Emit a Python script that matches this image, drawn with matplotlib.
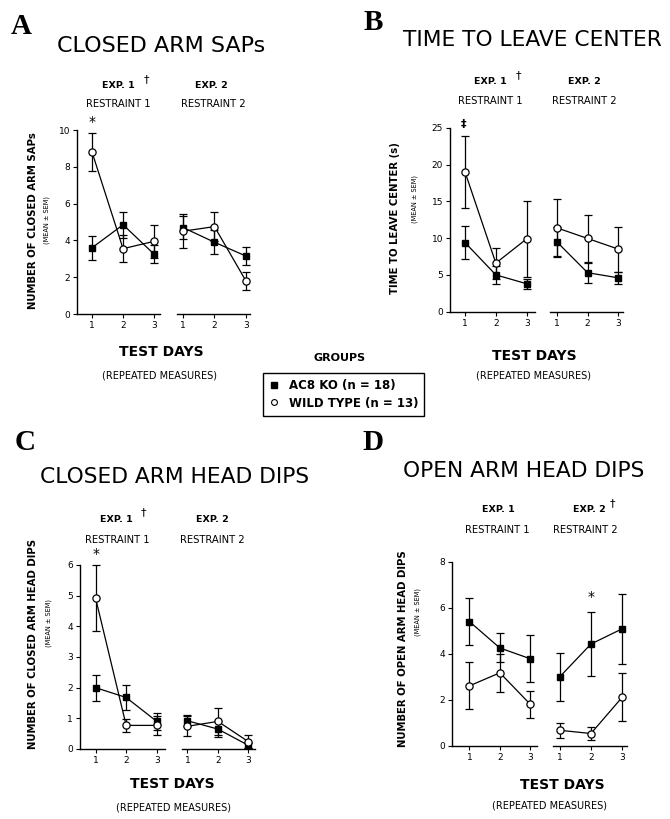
import matplotlib
matplotlib.use("Agg")
import matplotlib.pyplot as plt
from matplotlib.lines import Line2D

W, H = 670, 819
plt.rcParams['font.family'] = ['DejaVu Sans']

days = [1, 2, 3]
day_labels = ["1", "2", "3"]

# Panel A: closed arm SAPs
a_ko1 = [3.6, 4.85, 3.25]; a_ko1_sem = [0.65, 0.7, 0.5]
a_wt1 = [8.8, 3.55, 3.95]; a_wt1_sem = [1.05, 0.75, 0.88]
a_ko2 = [4.7, 3.9, 3.15];  a_ko2_sem = [0.6, 0.65, 0.5]
a_wt2 = [4.5, 4.75, 1.8];  a_wt2_sem = [0.92, 0.8, 0.47]

# Panel B: time to leave center (s)
b_ko1 = [9.4, 5.0, 3.8];    b_ko1_sem = [2.2, 1.2, 0.7]
b_wt1 = [19.0, 6.6, 9.9];   b_wt1_sem = [4.9, 2.1, 5.2]
b_ko2 = [9.5, 5.3, 4.6];    b_ko2_sem = [2.0, 1.35, 0.85]
b_wt2 = [11.4, 9.95, 8.5];  b_wt2_sem = [3.85, 3.2, 3.05]

# Panel C: closed arm head dips
c_ko1 = [2.0, 1.68, 0.9];   c_ko1_sem = [0.42, 0.42, 0.28]
c_wt1 = [4.92, 0.77, 0.77]; c_wt1_sem = [1.07, 0.2, 0.31]
c_ko2 = [0.92, 0.65, 0.12]; c_ko2_sem = [0.18, 0.27, 0.08]
c_wt2 = [0.74, 0.9, 0.24];  c_wt2_sem = [0.33, 0.45, 0.22]

# Panel D: open arm head dips
d_ko1 = [5.4, 4.25, 3.78];  d_ko1_sem = [1.02, 0.63, 1.03]
d_wt1 = [2.6, 3.17, 1.8];   d_wt1_sem = [1.02, 0.82, 0.58]
d_ko2 = [3.0, 4.42, 5.08];  d_ko2_sem = [1.05, 1.38, 1.52]
d_wt2 = [0.67, 0.53, 2.1];  d_wt2_sem = [0.32, 0.28, 1.04]

group_labels = ["AC8 KO (n = 18)", "WILD TYPE (n = 13)"]

fig = plt.figure(figsize=(W / 100, H / 100), dpi=100)


def fx(x):
    return x / W


def fy(y):
    return 1 - y / H


def txt(x, y, s, **kw):
    kw.setdefault('ha', 'center')
    kw.setdefault('va', 'center')
    fig.text(fx(x), fy(y), s, **kw)


def add_ax(x0, x1, ytop, ybot):
    return fig.add_axes([fx(x0), fy(ybot), (x1 - x0) / W, (ybot - ytop) / H])


def draw_series(ax, ko, ko_e, wt, wt_e):
    ax.errorbar(days, wt, yerr=wt_e, fmt='none', ecolor='black', elinewidth=0.9,
                capsize=2.6, capthick=0.9, zorder=2, clip_on=False)
    ax.errorbar(days, ko, yerr=ko_e, fmt='none', ecolor='black', elinewidth=0.9,
                capsize=2.6, capthick=0.9, zorder=2, clip_on=False)
    ax.plot(days, ko, color='black', lw=0.9, marker='s', ms=5, mfc='black',
            mec='black', zorder=3, clip_on=False)
    ax.plot(days, wt, color='black', lw=0.9, marker='o', ms=5.2, mfc='white',
            mec='black', mew=0.9, zorder=4, clip_on=False)


def style(ax, xlim, ylim, yticks, show_y):
    ax.set_xlim(*xlim)
    ax.set_ylim(*ylim)
    ax.patch.set_alpha(0)
    for s in ('top', 'right'):
        ax.spines[s].set_visible(False)
    ax.spines['bottom'].set_linewidth(1.0)
    ax.set_xticks(days)
    ax.set_xticklabels(day_labels)
    ax.tick_params(axis='x', direction='out', length=3, width=0.8, labelsize=6.5, pad=2)
    if show_y:
        ax.spines['left'].set_linewidth(1.0)
        ax.set_yticks(yticks)
        ax.set_yticklabels([str(t) for t in yticks])
        ax.tick_params(axis='y', direction='out', length=3, width=0.8, labelsize=6.5, pad=2)
    else:
        ax.spines['left'].set_visible(False)
        ax.set_yticks([])


def panel(lpx, rpx, ytop, ybot, lxlim, rxlim, ymax, yticks,
          ko1, ko1e, wt1, wt1e, ko2, ko2e, wt2, wt2e):
    axl = add_ax(lpx[0], lpx[1], ytop, ybot)
    axr = add_ax(rpx[0], rpx[1], ytop, ybot)
    style(axl, lxlim, (0, ymax), yticks, True)
    style(axr, rxlim, (0, ymax), yticks, False)
    draw_series(axl, ko1, ko1e, wt1, wt1e)
    draw_series(axr, ko2, ko2e, wt2, wt2e)
    return axl, axr


# ---------------- Panel A ----------------
panel((77, 160), (177, 250), 130, 314, (0.516, 3.19), (0.81, 3.13), 10, [0, 2, 4, 6, 8, 10],
      a_ko1, a_ko1_sem, a_wt1, a_wt1_sem, a_ko2, a_ko2_sem, a_wt2, a_wt2_sem)
txt(21, 27, "A", family='Liberation Serif', weight='bold', fontsize=21)
txt(161, 46, "CLOSED ARM SAPs", fontsize=16)
txt(118, 85, "EXP. 1", fontsize=6.8, weight='bold')
txt(146, 79, "\u2020", fontsize=8)
txt(211, 85, "EXP. 2", fontsize=6.8, weight='bold')
txt(118, 104, "RESTRAINT 1", fontsize=7.2)
txt(213, 104, "RESTRAINT 2", fontsize=7.2)
txt(92, 122, "*", fontsize=10)
txt(33, 221, "NUMBER OF CLOSED ARM SAPs", fontsize=7.3, weight='bold', rotation=90)
txt(47, 220, "(MEAN \u00b1 SEM)", fontsize=4.8, rotation=90)
txt(161, 352, "TEST DAYS", fontsize=10, weight='bold')
txt(160, 376, "(REPEATED MEASURES)", fontsize=7)

# ---------------- Panel B ----------------
panel((450, 535), (550, 623), 127.7, 311.7, (0.514, 3.27), (0.78, 3.15), 25, [0, 5, 10, 15, 20, 25],
      b_ko1, b_ko1_sem, b_wt1, b_wt1_sem, b_ko2, b_ko2_sem, b_wt2, b_wt2_sem)
txt(373, 22, "B", family='Liberation Serif', weight='bold', fontsize=21)
txt(532, 40, "TIME TO LEAVE CENTER", fontsize=15.7)
txt(490, 81, "EXP. 1", fontsize=6.8, weight='bold')
txt(518, 75, "\u2020", fontsize=8)
txt(584, 81, "EXP. 2", fontsize=6.8, weight='bold')
txt(490, 101, "RESTRAINT 1", fontsize=7.2)
txt(584, 101, "RESTRAINT 2", fontsize=7.2)
txt(464, 124, "\u2021", fontsize=8, weight='bold')
txt(395, 218, "TIME TO LEAVE CENTER (s)", fontsize=7.3, weight='bold', rotation=90)
txt(415, 199, "(MEAN \u00b1 SEM)", fontsize=4.8, rotation=90)
txt(534, 356, "TEST DAYS", fontsize=10, weight='bold')
txt(534, 376, "(REPEATED MEASURES)", fontsize=7)

# ---------------- Panel C ----------------
panel((80, 165), (182, 255), 565, 749, (0.49, 3.27), (0.82, 3.22), 6, [0, 1, 2, 3, 4, 5, 6],
      c_ko1, c_ko1_sem, c_wt1, c_wt1_sem, c_ko2, c_ko2_sem, c_wt2, c_wt2_sem)
txt(25, 443, "C", family='Liberation Serif', weight='bold', fontsize=21)
txt(175, 477, "CLOSED ARM HEAD DIPS", fontsize=15.7)
txt(116, 519, "EXP. 1", fontsize=6.8, weight='bold')
txt(143, 512, "\u2020", fontsize=8)
txt(212, 519, "EXP. 2", fontsize=6.8, weight='bold')
txt(117, 540, "RESTRAINT 1", fontsize=7.2)
txt(212, 540, "RESTRAINT 2", fontsize=7.2)
txt(96, 554, "*", fontsize=10)
txt(33, 644, "NUMBER OF CLOSED ARM HEAD DIPS", fontsize=7.3, weight='bold', rotation=90)
txt(49, 623, "(MEAN \u00b1 SEM)", fontsize=4.8, rotation=90)
txt(172, 784, "TEST DAYS", fontsize=10, weight='bold')
txt(174, 807, "(REPEATED MEASURES)", fontsize=7)

# ---------------- Panel D ----------------
panel((452, 537), (553, 627), 561.7, 745.7, (0.43, 3.22), (0.78, 3.16), 8, [0, 2, 4, 6, 8],
      d_ko1, d_ko1_sem, d_wt1, d_wt1_sem, d_ko2, d_ko2_sem, d_wt2, d_wt2_sem)
txt(373, 442, "D", family='Liberation Serif', weight='bold', fontsize=21)
txt(524, 471, "OPEN ARM HEAD DIPS", fontsize=15.7)
txt(498, 509, "EXP. 1", fontsize=6.8, weight='bold')
txt(589, 509, "EXP. 2", fontsize=6.8, weight='bold')
txt(612, 503, "\u2020", fontsize=8)
txt(497, 530, "RESTRAINT 1", fontsize=7.2)
txt(585, 530, "RESTRAINT 2", fontsize=7.2)
txt(591, 597, "*", fontsize=10)
txt(403, 649, "NUMBER OF OPEN ARM HEAD DIPS", fontsize=7.3, weight='bold', rotation=90)
txt(418, 612, "(MEAN \u00b1 SEM)", fontsize=4.8, rotation=90)
txt(562, 785, "TEST DAYS", fontsize=10, weight='bold')
txt(550, 806, "(REPEATED MEASURES)", fontsize=7)

# ---------------- Legend ----------------
txt(340, 358, "GROUPS", fontsize=8, weight='bold')
handles = [Line2D([], [], ls='none', marker='s', ms=4.2, mfc='black', mec='black'),
           Line2D([], [], ls='none', marker='o', ms=4.2, mfc='white', mec='black', mew=0.8)]
leg = fig.legend(handles, group_labels, loc='upper left',
                 bbox_to_anchor=(fx(263), fy(373)), bbox_transform=fig.transFigure,
                 frameon=True, fancybox=False, edgecolor='black', framealpha=1,
                 prop={'size': 8.5, 'weight': 'bold'}, handlelength=0.8,
                 handletextpad=0.9, borderpad=0.5, labelspacing=0.4, borderaxespad=0)
leg.get_frame().set_linewidth(1.0)

fig.savefig("out.png", dpi=100)
